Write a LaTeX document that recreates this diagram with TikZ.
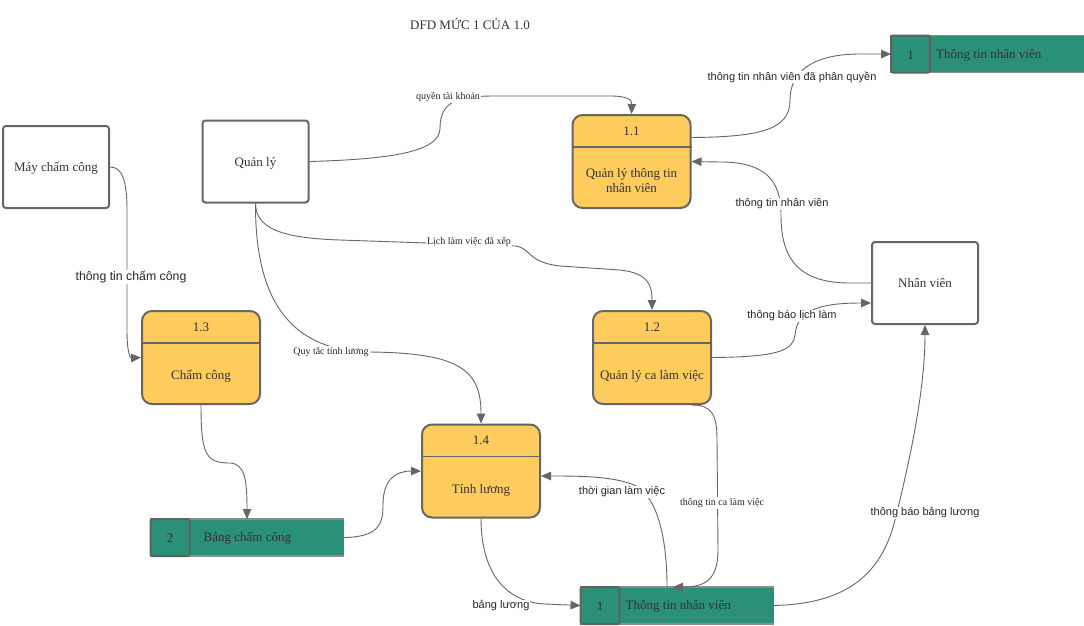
\documentclass[tikz,border=0pt]{standalone}
\usepackage{fontspec}
\setmainfont{Liberation Serif}
\newfontfamily\lblfont{Liberation Sans}
\usetikzlibrary{arrows.meta}

\definecolor{procfill}{HTML}{FECC5C}
\definecolor{edgegray}{HTML}{666666}
\definecolor{storefill}{HTML}{2A9178}
\definecolor{txt}{HTML}{333333}

\tikzset{
  ext/.style={draw=edgegray, line width=2pt, rounded corners=3pt, fill=white,
    minimum width=106pt, minimum height=82pt, font=\fontsize{13}{15}\selectfont, text=txt,
    text depth=0pt},
  proc/.style={draw=edgegray, line width=2pt, rounded corners=10pt, fill=procfill,
    minimum width=118pt, minimum height=93pt},
  ptext/.style={font=\fontsize{13}{15}\selectfont, text=txt, align=center, inner sep=1pt},
  storebg/.style={fill=storefill, minimum width=193pt, minimum height=37pt, inner sep=0pt, outer sep=0pt},
  storeline/.style={draw=black!45, line width=1.5pt},
  cellline/.style={draw=black!62, line width=2pt},
  flow/.style={draw=edgegray, line width=0.9pt, -{Triangle[length=10pt,width=8.5pt]}},
  slbl/.style={fill=white, inner sep=1pt, font=\lblfont\fontsize{11}{13}\selectfont, text=black!85},
  rlbl/.style={fill=white, inner sep=1pt, font=\fontsize{10}{12}\selectfont, text=black!85},
}

% process box: name, x, y, number, title
\newcommand\dfdproc[5]{%
  \node[proc] (#1) at (#2,#3) {};
  \draw[edgegray, line width=1.5pt] ([yshift=-33pt]#1.north west) -- ([yshift=-33pt]#1.north east);
  \node[ptext] (#1n) at ([yshift=-17pt]#1.north) {#4};
  \node[ptext] (#1t) at ([yshift=-66.5pt]#1.north) {#5};
}
% data store: name, x, y, number, text offset, text
\newcommand\dfdstore[6]{%
  \node[storebg] (#1) at (#2,#3) {};
  \draw[storeline] (#1.north east) -- (#1.north west) -- (#1.south west) -- (#1.south east);
  \draw[cellline, rounded corners=2pt] (#1.north west) rectangle ([xshift=39pt]#1.south west);
  \node[ptext] (#1n) at ([xshift=19.5pt,yshift=-1pt]#1.west) {#4};
  \node[ptext, anchor=west] (#1t) at ([xshift=#5pt,yshift=-1pt]#1.west) {#6};
}

\begin{document}
\begin{tikzpicture}[x=1pt,y=-1pt]
\useasboundingbox (0,0) rectangle (1084,625);
\fill[white] (0,0) rectangle (1084,625);

\node[font=\fontsize{13}{15}\selectfont, text=txt] (title) at (470,24) {DFD MỨC 1 CỦA 1.0};

% external entities
\node[ext] (mcc) at (56,167) {Máy chấm công};
\node[ext] (ql) at (255.5,161.5) {Quản lý};
\node[ext] (nv) at (925,283) {Nhân viên};

% processes
\dfdproc{p11}{631.5}{161.5}{1.1}{Quản lý thông tin\\nhân viên}
\dfdproc{p12}{652}{357.5}{1.2}{Quản lý ca làm việc}
\dfdproc{p13}{201}{357.5}{1.3}{Chấm công}
\dfdproc{p14}{481}{471}{1.4}{Tính lương}

% data stores
\dfdstore{sa}{987.5}{54}{1}{44}{Thông tin nhân viên}
\dfdstore{sb}{247}{537.5}{2}{52}{Bảng chấm công}
\dfdstore{sc}{677}{605.5}{1}{44}{Thông tin nhân viên}

% flows
\draw[flow] (ql.east) .. controls (400,159) and (440,150) .. (440,128)
  .. controls (440,100) and (460,96) .. (495,96) -- (610,96)
  .. controls (628,96) and (632,100) .. (p11.north);
\draw[flow] ([yshift=24pt]p11.east) .. controls (765,137) and (790,128) .. (790,100)
  .. controls (790,70) and (815,54) .. (860,54) -- (sa.west);
\draw[flow] (nv.west) -- (850,283) .. controls (795,283) and (781,255) .. (781,215)
  .. controls (781,180) and (765,162) .. (720,162) -- (p11.east);
\draw[flow] (ql.south) .. controls (256,228) and (280,238) .. (340,240) -- (515,246)
  .. controls (532,248) and (526,262) .. (560,266) -- (620,270)
  .. controls (648,273) and (652,285) .. (p12.north);
\draw[flow] (ql.south) .. controls (255,300) and (290,351) .. (370,352)
  .. controls (460,353) and (481,370) .. (p14.north);
\draw[flow] (mcc.east) .. controls (122,167) and (127,180) .. (127,210) -- (127,330)
  .. controls (127,352) and (130,358) .. (p13.west);
\draw[flow] (p13.south) .. controls (201,455) and (206,463) .. (230,463)
  .. controls (245,464) and (247,480) .. (sb.north);
\draw[flow] (sb.east) .. controls (378,537) and (383,525) .. (383,505)
  .. controls (383,480) and (395,471) .. (p14.west);
\draw[flow] (p12.east) .. controls (780,357) and (793,350) .. (795,335)
  .. controls (797,310) and (820,303) .. ([yshift=-20pt]nv.west);
\draw[flow] ([xshift=40pt]p12.south) .. controls (712,405) and (717,415) .. (717,440) -- (718,550)
  .. controls (718,580) and (705,587) .. ([xshift=-4pt]sc.north);
\draw[flow] ([xshift=-10pt]sc.north) .. controls (667,545) and (660,505) .. (640,488)
  .. controls (620,476) and (580,476) .. ([yshift=-5pt]p14.east);
\draw[flow] (p14.south) .. controls (481,572) and (505,602) .. (545,604) -- (sc.west);
\draw[flow] (sc.east) .. controls (840,604) and (880,580) .. (895,520)
  .. controls (915,440) and (925,380) .. (nv.south);

% flow labels
\node[rlbl] (l1) at (448,97) {quyền tài khoản};
\node[slbl] (l2) at (792,77) {thông tin nhân viên đã phân quyền};
\node[slbl] (l3) at (782,204) {thông tin nhân viên};
\node[rlbl] (l4) at (469,242) {Lịch làm việc đã xếp};
\node[rlbl] (l5) at (331,352) {Quy tắc tính lương};
\node[slbl, font=\lblfont\fontsize{12.3}{14}\selectfont] (l6) at (131,277) {thông tin chấm công};
\node[slbl] (l7) at (792,316) {thông báo lịch làm};
\node[rlbl] (l8) at (722,503) {thông tin ca làm việc};
\node[slbl] (l9) at (622,492) {thời gian làm việc};
\node[slbl] (l10) at (501,606) {bảng lương};
\node[slbl] (l11) at (925,513) {thông báo bảng lương};
\end{tikzpicture}
\end{document}
